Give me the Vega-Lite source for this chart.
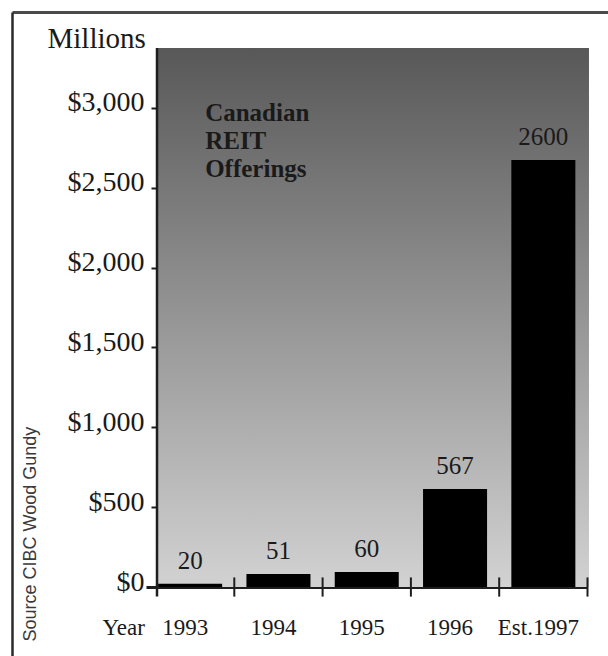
{
  "$schema": "https://vega.github.io/schema/vega-lite/v6.json",
  "width": 596,
  "height": 644,
  "autosize": {"type": "none"},
  "padding": {"left": 12, "top": 12, "right": 0, "bottom": 0},
  "background": "white",
  "config": {"view": {"stroke": null}, "font": "Liberation Serif"},
  "resolve": {"scale": {"x": "independent"}, "axis": {"x": "independent", "y": "independent"}},
  "layer": [
    {
      "data": {"values": [{"area": "plot"}]},
      "layer": [
        {
          "mark": {
            "type": "rect",
            "fill": {
              "gradient": "linear",
              "x1": 0, "y1": 0, "x2": 0, "y2": 1,
              "stops": [
                {"offset": 0, "color": "#585858"},
                {"offset": 1, "color": "#d2d2d2"}
              ]
            }
          },
          "encoding": {
            "x": {
              "datum": 0.2433,
              "type": "quantitative",
              "scale": {"domain": [0, 1], "nice": false, "zero": false},
              "axis": {
                "orient": "top", "offset": 0, "domain": true, "domainColor": "#4a4a4a", "domainWidth": 3,
                "ticks": false, "labels": false, "grid": false, "title": null
              }
            },
            "x2": {"datum": 0.9681},
            "y": {
              "datum": 0,
              "type": "quantitative",
              "scale": {"domain": [-432, 3601], "nice": false, "zero": false},
              "axis": {
                "orient": "left", "offset": 0, "domain": true, "domainColor": "#2a2a2a", "domainWidth": 2.5,
                "ticks": false, "labels": false, "grid": false,
                "title": "Source CIBC Wood Gundy",
                "titleFont": "Liberation Sans", "titleFontSize": 18, "titleFontWeight": "normal",
                "titleColor": "#3a3a3a", "titleAngle": -90, "titleX": 23, "titleY": 629,
                "titleAlign": "left", "titleBaseline": "alphabetic"
              }
            },
            "y2": {"datum": 3376}
          }
        },
        {
          "mark": {"type": "rule", "color": "#1e1e1e", "strokeWidth": 2.5},
          "encoding": {
            "x": {"datum": 0.2433, "type": "quantitative"},
            "y": {"datum": -60, "type": "quantitative"},
            "y2": {"datum": 3376}
          }
        }
      ]
    },
    {
      "data": {
        "values": [
          {"year": "1993", "value": 20, "printed": 20},
          {"year": "1994", "value": 81, "printed": 51},
          {"year": "1995", "value": 94, "printed": 60},
          {"year": "1996", "value": 614, "printed": 567},
          {"year": "Est.1997", "value": 2674, "printed": 2600}
        ]
      },
      "encoding": {
        "x": {
          "field": "year",
          "type": "nominal",
          "scale": {
            "domain": ["1993", "1994", "1995", "1996", "Est.1997"],
            "range": [134, 575.5],
            "paddingInner": 0,
            "paddingOuter": 0
          },
          "axis": {
            "orient": "bottom", "offset": -69, "domain": true, "domainColor": "#1e1e1e", "domainWidth": 3,
            "ticks": false, "grid": false,
            "labelFont": "Liberation Serif", "labelFontSize": 23, "labelColor": "#1a1a1a",
            "labelBaseline": "alphabetic", "labelPadding": 47, "labelOffset": -5, "labelAngle": 0,
            "title": "Year", "titleX": 90, "titleY": 47, "titleAlign": "left", "titleBaseline": "alphabetic",
            "titleFont": "Liberation Serif", "titleFontSize": 23, "titleFontWeight": "normal", "titleColor": "#1a1a1a"
          }
        }
      },
      "layer": [
        {
          "mark": {"type": "bar", "color": "#000000", "width": {"band": 0.725}},
          "encoding": {
            "y": {
              "field": "value",
              "type": "quantitative",
              "scale": {"domain": [-432, 3601], "nice": false, "zero": false},
              "axis": {
                "orient": "left", "offset": -145, "domain": false, "grid": false,
                "ticks": true, "tickSize": 6, "tickWidth": 2, "tickColor": "#1e1e1e",
                "values": [0, 500, 1000, 1500, 2000, 2500, 3000],
                "format": "$,.0f",
                "labelFont": "Liberation Serif", "labelFontSize": 28, "labelColor": "#1a1a1a",
                "labelPadding": 7, "labelBaseline": "alphabetic", "labelOffset": 3,
                "title": "Millions", "titleAngle": 0, "titleX": -110, "titleY": 35,
                "titleAlign": "left", "titleBaseline": "alphabetic",
                "titleFont": "Liberation Serif", "titleFontSize": 29, "titleFontWeight": "normal", "titleColor": "#1a1a1a"
              }
            }
          }
        },
        {
          "mark": {"type": "text", "font": "Liberation Serif", "fontSize": 25, "color": "#1a1a1a", "baseline": "alphabetic", "align": "center", "dy": -15},
          "encoding": {
            "y": {"field": "value", "type": "quantitative"},
            "text": {"field": "printed", "type": "quantitative", "format": "d"}
          }
        },
        {
          "mark": {"type": "rule", "color": "#1e1e1e", "strokeWidth": 2},
          "encoding": {
            "x": {"field": "year", "type": "nominal", "bandPosition": 1},
            "y": {"datum": -60, "type": "quantitative"},
            "y2": {"datum": 60}
          }
        },
        {
          "data": {"values": [{"note": "Canadian REIT Offerings"}]},
          "mark": {"type": "text", "font": "Liberation Serif", "fontSize": 25, "fontWeight": "bold", "color": "#1a1a1a", "align": "left", "baseline": "alphabetic", "dx": 15, "lineBreak": " ", "lineHeight": 28},
          "encoding": {
            "x": {"datum": "1993", "type": "nominal"},
            "y": {"datum": 2919, "type": "quantitative"},
            "text": {"field": "note", "type": "nominal"}
          }
        }
      ]
    }
  ]
}
